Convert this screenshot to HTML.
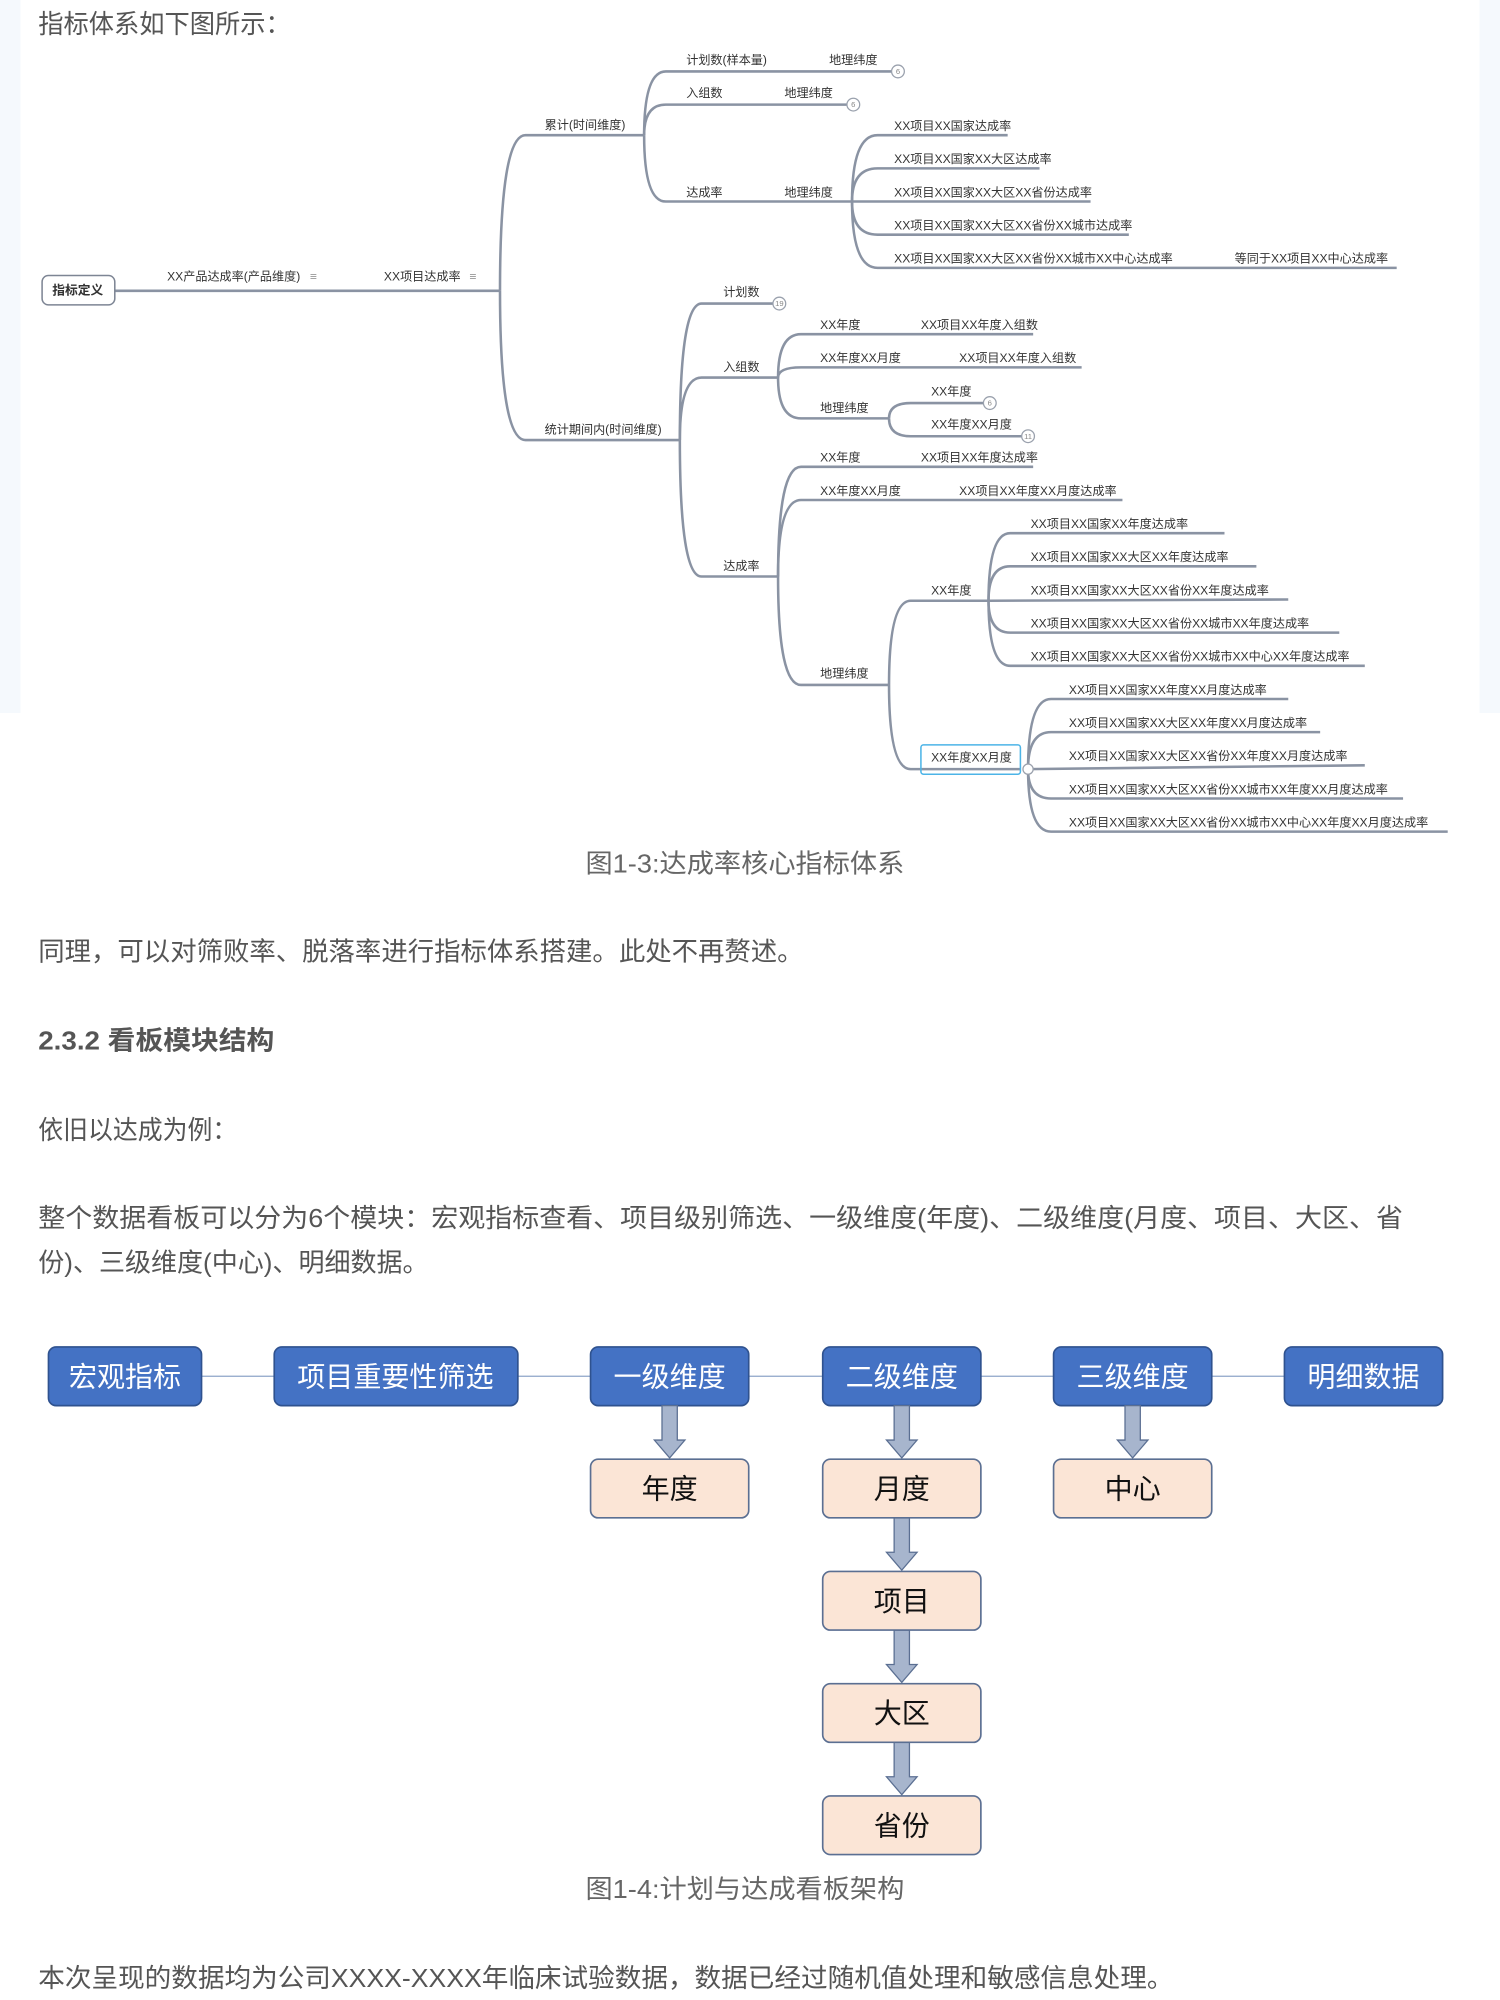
<!DOCTYPE html>
<html><head><meta charset="utf-8">
<style>
html,body{margin:0;padding:0;background:#fff;}
svg{display:block;}
.t{font-family:"Liberation Sans","Noto Sans CJK SC",sans-serif;}
.m{font-size:9.5px;fill:#333;}
.p{font-size:20.5px;fill:#555;}
.w{font-size:22px;fill:#fff;}
.k{font-size:22px;fill:#111;}
</style></head>
<body>
<svg width="1500" height="2000" viewBox="0 0 1176 1568" preserveAspectRatio="none" xmlns="http://www.w3.org/2000/svg" class="t">
<rect x="0" y="0" width="1176" height="1568" fill="#fff"/>
<rect x="0" y="0" width="16" height="559" fill="#f5f9fd"/>
<rect x="1160" y="0" width="16" height="559" fill="#f5f9fd"/>
<text x="30" y="26" class="p" textLength="198" lengthAdjust="spacingAndGlyphs">指标体系如下图所示：</text>

<g fill="none" stroke="#8a93a3" stroke-width="2">
<path d="M90 228 L392 228"/>
<path d="M392 228 Q392 106 412 106 L505 106"/>
<path d="M392 228 Q392 345 412 345 L533 345"/>
<path d="M505 106 Q505 56 522 56 L700 56"/>
<path d="M505 106 Q505 82 522 82 L665 82"/>
<path d="M505 106 Q505 158 522 158 L668 158"/>
<path d="M668 158 Q668 106 688 106 L790 106"/>
<path d="M668 158 Q668 132 688 132 L815 132"/>
<path d="M668 158 L855 158"/>
<path d="M668 158 Q668 184 688 184 L885 184"/>
<path d="M668 158 Q668 210 688 210 L1095 210"/>
<path d="M533 345 Q533 238 550 238 L607 238"/>
<path d="M533 345 Q533 296 550 296 L610 296"/>
<path d="M533 345 Q533 452 550 452 L610 452"/>
<path d="M610 296 Q610 262 628 262 L810 262"/>
<path d="M610 296 Q610 288 628 288 L848 288"/>
<path d="M610 296 Q610 328 628 328 L697 328"/>
<path d="M697 328 Q697 316 714 316 L772 316"/>
<path d="M697 328 Q697 342 714 342 L802 342"/>
<path d="M610 452 Q610 366 628 366 L810 366"/>
<path d="M610 452 Q610 392 628 392 L880 392"/>
<path d="M610 452 Q610 537 628 537 L697 537"/>
<path d="M697 537 Q697 471 714 471 L775 471"/>
<path d="M697 537 Q697 603 714 603 L800 603"/>
<path d="M775 471 Q775 418 792 418 L960 418"/>
<path d="M775 471 Q775 444 792 444 L985 444"/>
<path d="M775 471 L1010 470"/>
<path d="M775 471 Q775 496 792 496 L1050 496"/>
<path d="M775 471 Q775 522 792 522 L1070 522"/>
<path d="M806 603 Q806 548 824 548 L1010 548"/>
<path d="M806 603 Q806 574 824 574 L1035 574"/>
<path d="M806 603 L1070 600"/>
<path d="M806 603 Q806 626 824 626 L1100 626"/>
<path d="M806 603 Q806 652 824 652 L1135 652"/>
</g>
<g fill="#fff" stroke="#9aa1ad" stroke-width="1">
<circle cx="704" cy="56" r="5"/><circle cx="669" cy="82" r="5"/>
<circle cx="611" cy="238" r="5"/><circle cx="776" cy="316" r="5"/>
<circle cx="806" cy="342" r="5"/><circle cx="806" cy="603" r="4"/>
</g>
<g font-size="6" fill="#888" text-anchor="middle">
<text x="704" y="58">6</text><text x="669" y="84">6</text><text x="611" y="240">19</text>
<text x="776" y="318">6</text><text x="806" y="344">11</text>
</g>
<rect x="33" y="216" width="57" height="23" rx="5" fill="#fff" stroke="#7d8594" stroke-width="1.2"/>
<text x="61" y="231" text-anchor="middle" style="font-size:10px;font-weight:bold;fill:#333">指标定义</text>
<rect x="722" y="584" width="78" height="23" fill="none" stroke="#4cb4e7" stroke-width="1.2" rx="2"/>

<g class="m">
<text x="131" y="220">XX产品达成率(产品维度)</text><text x="243" y="220" fill="#999">≡</text>
<text x="301" y="220">XX项目达成率</text><text x="368" y="220" fill="#999">≡</text>
<text x="427" y="101">累计(时间维度)</text>
<text x="427" y="340">统计期间内(时间维度)</text>
<text x="538" y="50">计划数(样本量)</text><text x="650" y="50">地理纬度</text>
<text x="538" y="76">入组数</text><text x="615" y="76">地理纬度</text>
<text x="538" y="154">达成率</text><text x="615" y="154">地理纬度</text>
<text x="701" y="102">XX项目XX国家达成率</text>
<text x="701" y="128">XX项目XX国家XX大区达成率</text>
<text x="701" y="154">XX项目XX国家XX大区XX省份达成率</text>
<text x="701" y="180">XX项目XX国家XX大区XX省份XX城市达成率</text>
<text x="701" y="206">XX项目XX国家XX大区XX省份XX城市XX中心达成率</text>
<text x="968" y="206">等同于XX项目XX中心达成率</text>
<text x="567" y="232">计划数</text>
<text x="567" y="291">入组数</text>
<text x="567" y="447">达成率</text>
<text x="643" y="258">XX年度</text><text x="722" y="258">XX项目XX年度入组数</text>
<text x="643" y="284">XX年度XX月度</text><text x="752" y="284">XX项目XX年度入组数</text>
<text x="643" y="323">地理纬度</text>
<text x="730" y="310">XX年度</text>
<text x="730" y="336">XX年度XX月度</text>
<text x="643" y="362">XX年度</text><text x="722" y="362">XX项目XX年度达成率</text>
<text x="643" y="388">XX年度XX月度</text><text x="752" y="388">XX项目XX年度XX月度达成率</text>
<text x="643" y="531">地理纬度</text>
<text x="730" y="466">XX年度</text>
<text x="730" y="597">XX年度XX月度</text>
<text x="808" y="414">XX项目XX国家XX年度达成率</text>
<text x="808" y="440">XX项目XX国家XX大区XX年度达成率</text>
<text x="808" y="466">XX项目XX国家XX大区XX省份XX年度达成率</text>
<text x="808" y="492">XX项目XX国家XX大区XX省份XX城市XX年度达成率</text>
<text x="808" y="518">XX项目XX国家XX大区XX省份XX城市XX中心XX年度达成率</text>
<text x="838" y="544">XX项目XX国家XX年度XX月度达成率</text>
<text x="838" y="570">XX项目XX国家XX大区XX年度XX月度达成率</text>
<text x="838" y="596">XX项目XX国家XX大区XX省份XX年度XX月度达成率</text>
<text x="838" y="622">XX项目XX国家XX大区XX省份XX城市XX年度XX月度达成率</text>
<text x="838" y="648">XX项目XX国家XX大区XX省份XX城市XX中心XX年度XX月度达成率</text>
</g>

<text x="459" y="684" class="p" style="fill:#666" textLength="250" lengthAdjust="spacingAndGlyphs">图1-3:达成率核心指标体系</text>
<text x="30" y="753" class="p" textLength="600" lengthAdjust="spacingAndGlyphs">同理，可以对筛败率、脱落率进行指标体系搭建。此处不再赘述。</text>
<text x="30" y="823" class="p" style="font-weight:bold" textLength="185" lengthAdjust="spacingAndGlyphs">2.3.2 看板模块结构</text>
<text x="30" y="893" class="p" textLength="156" lengthAdjust="spacingAndGlyphs">依旧以达成为例：</text>
<text x="30" y="962" class="p" textLength="1070" lengthAdjust="spacingAndGlyphs">整个数据看板可以分为6个模块：宏观指标查看、项目级别筛选、一级维度(年度)、二级维度(月度、项目、大区、省</text>
<text x="30" y="997" class="p" textLength="306" lengthAdjust="spacingAndGlyphs">份)、三级维度(中心)、明细数据。</text>

<line x1="60" y1="1079" x2="1110" y2="1079" stroke="#8ea5c8" stroke-width="1"/>
<g fill="#4472c4" stroke="#2f528f" stroke-width="1.3">
<rect x="38" y="1056" width="120" height="46" rx="6"/>
<rect x="215" y="1056" width="191" height="46" rx="6"/>
<rect x="463" y="1056" width="124" height="46" rx="6"/>
<rect x="645" y="1056" width="124" height="46" rx="6"/>
<rect x="826" y="1056" width="124" height="46" rx="6"/>
<rect x="1007" y="1056" width="124" height="46" rx="6"/>
</g>
<g class="w" text-anchor="middle">
<text x="98" y="1087">宏观指标</text>
<text x="310" y="1087">项目重要性筛选</text>
<text x="525" y="1087">一级维度</text>
<text x="707" y="1087">二级维度</text>
<text x="888" y="1087">三级维度</text>
<text x="1069" y="1087">明细数据</text>
</g>
<g fill="#a7b5cd" stroke="#5b6f92" stroke-width="1">
<polygon points="519,1102 531,1102 531,1129 537,1129 525,1143 513,1129 519,1129"/>
<polygon points="701,1102 713,1102 713,1129 719,1129 707,1143 695,1129 701,1129"/>
<polygon points="882,1102 894,1102 894,1129 900,1129 888,1143 876,1129 882,1129"/>
<polygon points="701,1190 713,1190 713,1217 719,1217 707,1231 695,1217 701,1217"/>
<polygon points="701,1278 713,1278 713,1305 719,1305 707,1319 695,1305 701,1305"/>
<polygon points="701,1366 713,1366 713,1393 719,1393 707,1407 695,1393 701,1393"/>
</g>
<g fill="#fbe5d6" stroke="#5b6f92" stroke-width="1.3">
<rect x="463" y="1144" width="124" height="46" rx="6"/>
<rect x="645" y="1144" width="124" height="46" rx="6"/>
<rect x="826" y="1144" width="124" height="46" rx="6"/>
<rect x="645" y="1232" width="124" height="46" rx="6"/>
<rect x="645" y="1320" width="124" height="46" rx="6"/>
<rect x="645" y="1408" width="124" height="46" rx="6"/>
</g>
<g class="k" text-anchor="middle">
<text x="525" y="1175">年度</text>
<text x="707" y="1175">月度</text>
<text x="888" y="1175">中心</text>
<text x="707" y="1263">项目</text>
<text x="707" y="1351">大区</text>
<text x="707" y="1439">省份</text>
</g>
<text x="459" y="1488" class="p" style="fill:#666" textLength="250" lengthAdjust="spacingAndGlyphs">图1-4:计划与达成看板架构</text>
<text x="30" y="1558" class="p" textLength="890" lengthAdjust="spacingAndGlyphs">本次呈现的数据均为公司XXXX-XXXX年临床试验数据，数据已经过随机值处理和敏感信息处理。</text>
</svg>
</body></html>
